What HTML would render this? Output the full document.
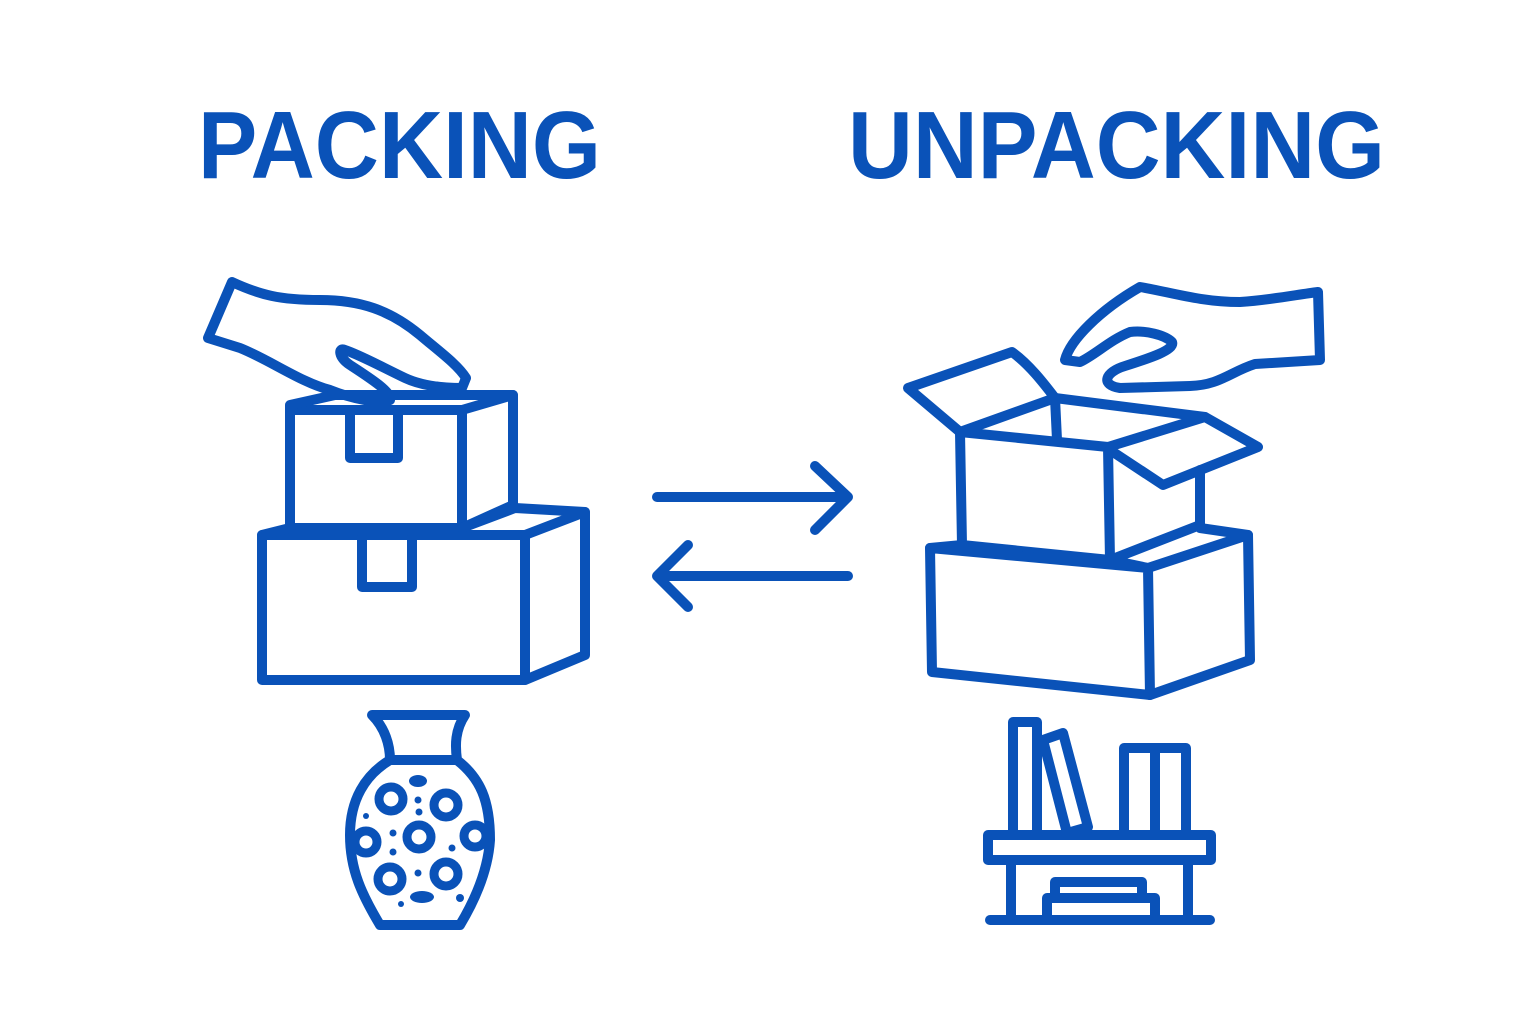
<!DOCTYPE html>
<html><head><meta charset="utf-8"><style>
html,body{margin:0;padding:0;background:#fff;}
svg{display:block;}
</style></head><body>
<svg width="1536" height="1024" viewBox="0 0 1536 1024" xmlns="http://www.w3.org/2000/svg">
<g font-family="Liberation Sans, sans-serif" font-weight="bold" fill="#0a52b8" font-size="96">
<text x="198" y="178" textLength="403" lengthAdjust="spacingAndGlyphs">PACKING</text>
<text x="848" y="178" textLength="537" lengthAdjust="spacingAndGlyphs">UNPACKING</text>
</g>
<g fill="none" stroke="#0a52b8" stroke-width="10" stroke-linejoin="round" stroke-linecap="round">
<path d="M208,338 L232,282 C260,295 280,300 320,300 C360,300 390,310 420,335 C440,352 458,365 466,378 L462,388 C440,388 420,385 405,378 C380,366 360,355 345,350 C338,347 338,357 350,365 C370,378 392,392 390,400 C380,405 350,398 330,390 C300,382 270,360 240,348 Z"/>
<path d="M290,410 L462,410 L462,528 L290,528 Z"/>
<path d="M290,410 L290,405 L335,395 L513,395 L462,410"/>
<path d="M513,395 L513,505 L462,528"/>
<path d="M350,415 L350,458 L398,458 L398,415"/>
<path d="M262,535 L525,535 L525,680 L262,680 Z"/>
<path d="M262,535 L290,528"/>
<path d="M462,528 L515,508 L585,512 L525,535"/>
<path d="M585,512 L585,655 L525,680"/>
<path d="M362,538 L362,587 L412,587 L412,538"/>
<path d="M657,497 L848,497 M815,466 L848,497 L815,530"/>
<path d="M848,576 L657,576 M688,545 L657,576 L688,607"/>
<path d="M1065,360 C1070,340 1100,310 1140,287 C1170,292 1200,302 1240,302 C1270,300 1295,295 1318,292 L1320,360 L1255,364 C1230,372 1220,385 1190,386 L1120,388 C1100,385 1105,372 1125,366 C1150,358 1175,350 1172,342 C1165,335 1145,330 1130,332 C1110,340 1095,355 1080,362 Z"/>
<path d="M960,432 L1108,447 L1110,560 L962,545 Z"/>
<path d="M960,432 L1055,398 L1205,417 L1108,447"/>
<path d="M1055,398 L1057,440"/>
<path d="M960,432 L908,388 L1012,352 C1030,365 1045,385 1055,398"/>
<path d="M1110,450 L1163,485 L1258,447 L1205,417"/>
<path d="M1200,470 L1200,525 L1110,560"/>
<path d="M930,548 L1148,568 L1150,695 L932,672 Z"/>
<path d="M962,545 L930,548"/>
<path d="M1110,560 L1148,568 L1248,535 L1200,528"/>
<path d="M1248,535 L1250,660 L1150,695"/>
<path d="M372,715 L465,715 C455,730 455,745 457,760 C480,778 490,800 490,840 C488,870 475,900 460,925 L380,925 C362,895 350,870 350,835 C350,800 365,775 390,760 C390,745 385,728 372,715 Z"/>
<path d="M390,760 L457,760"/>
</g>
<g fill="none" stroke="#0a52b8" stroke-width="9">
<circle cx="391" cy="799" r="12"/><circle cx="446" cy="805" r="12"/>
<circle cx="419" cy="837" r="12"/><circle cx="366" cy="842" r="11"/>
<circle cx="475" cy="836" r="11"/><circle cx="390" cy="879" r="12"/>
<circle cx="446" cy="874" r="12"/>
</g>
<g fill="#0a52b8">
<ellipse cx="418" cy="781" rx="9" ry="6"/><circle cx="418" cy="800" r="3.5"/><circle cx="419" cy="812" r="3.5"/>
<circle cx="393" cy="833" r="3.5"/><circle cx="393" cy="852" r="3.5"/><circle cx="452" cy="848" r="3.5"/>
<circle cx="418" cy="873" r="3.5"/><ellipse cx="422" cy="897" rx="12" ry="6"/><circle cx="401" cy="904" r="3"/><circle cx="460" cy="898" r="4"/>
<circle cx="366" cy="816" r="3"/>
</g>
<g fill="none" stroke="#0a52b8" stroke-width="10" stroke-linejoin="round" stroke-linecap="round">
<path d="M1013,833 L1013,722 L1037,722 L1037,833"/>
<path d="M1043,740 L1063,733 L1088,827 L1067,833 Z"/>
<path d="M1124,833 L1124,748 L1186,748 L1186,833 M1155,750 L1155,833"/>
<path d="M988,835 L1211,835 L1211,860 L988,860 Z"/>
<path d="M1011,862 L1011,918 M1188,862 L1188,918"/>
<path d="M1055,898 L1055,882 L1142,882 L1142,898"/>
<path d="M1047,918 L1047,898 L1155,898 L1155,918"/>
<path d="M990,920 L1210,920"/>
</g>
</svg>
</body></html>
